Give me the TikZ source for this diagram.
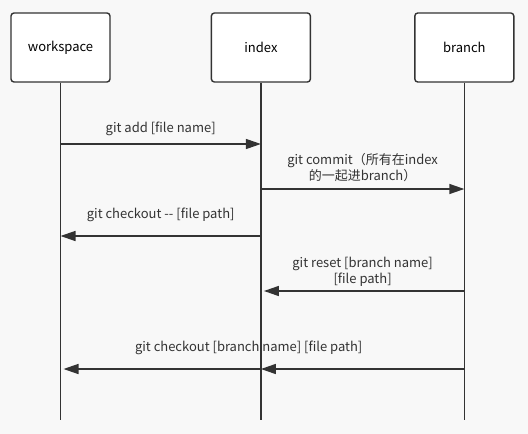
\documentclass[tikz,border=0pt]{standalone}
\usepackage{fontspec}
\setmainfont{Noto Sans CJK SC}
\usetikzlibrary{positioning,arrows.meta}
\definecolor{bgc}{HTML}{F8F8F8}
\definecolor{linec}{HTML}{333333}

\begin{document}
\begin{tikzpicture}[x=1pt,y=-1pt]
		\tikzset{Box/.style = {draw=linec, fill=white, rounded corners=3pt, line width=1.4pt, minimum width=99pt, minimum height=69pt, font=\fontsize{13}{15}\selectfont},
			Life/.style = {draw=linec, line width=1.4pt},
			Msg/.style = {draw=linec, line width=1.4pt, -{Triangle[length=15pt,width=10pt]}},
			Label/.style = {text=linec, align=center, font=\fontsize{13}{16}\selectfont}}
		\fill[bgc] (0,0) rectangle (528,434);
		\node[Box]    (ws)  at (60.5,47.5)     {workspace};
		\node[Box]    (idx) [right = 100pt of ws]  {index};
		\node[Box]    (br)  [right = 103pt of idx] {branch};
		% lifelines
		\coordinate (wsEnd)  at (ws.south |- 0,420);
		\coordinate (idxEnd) at (idx.south |- 0,420);
		\coordinate (brEnd)  at (br.south |- 0,420);
		\draw [Life] (ws)  -- (wsEnd);
		\draw [Life] (idx) -- (idxEnd);
		\draw [Life] (br)  -- (brEnd);
		% messages
		\coordinate (ws1)  at (ws.south |- 0,144);
		\coordinate (idx1) at (idx.south |- 0,144);
		\coordinate (idx2) at (idx.south |- 0,189);
		\coordinate (br2)  at (br.south |- 0,189);
		\coordinate (idx3) at (idx.south |- 0,236);
		\coordinate (ws3)  at (ws.south |- 0,236);
		\coordinate (br4)  at (br.south |- 0,291);
		\coordinate (idx4) at (idx.south |- 0,291);
		\coordinate (br5)  at (br.south |- 0,369);
		\coordinate (idx5) at (idx.south |- 0,369);
		\coordinate (ws5)  at (ws.south |- 0,369);
		\draw [Msg] (ws1) -- (idx1) node[Label, midway, yshift=15pt] {git add [file name]};
		\draw [Msg] (idx2) -- (br2) node[Label, midway, yshift=21pt] {git commit（所有在index\\的一起进branch）};
		\draw [Msg] (idx3) -- (ws3) node[Label, midway, yshift=21pt] {git checkout -{}- [file path]};
		\draw [Msg, shorten >=3pt] (br4) -- (idx4) node[Label, midway, yshift=19pt] {git reset [branch name]\\{[file path]}};
		\draw [Msg] (br5) -- (idx5);
		\draw [Msg, shorten >=3pt] (idx5) -- (ws5) node[Label, midway, xshift=88pt, yshift=21pt] {git checkout [branch name] [file path]};
	\end{tikzpicture}
\end{document}
